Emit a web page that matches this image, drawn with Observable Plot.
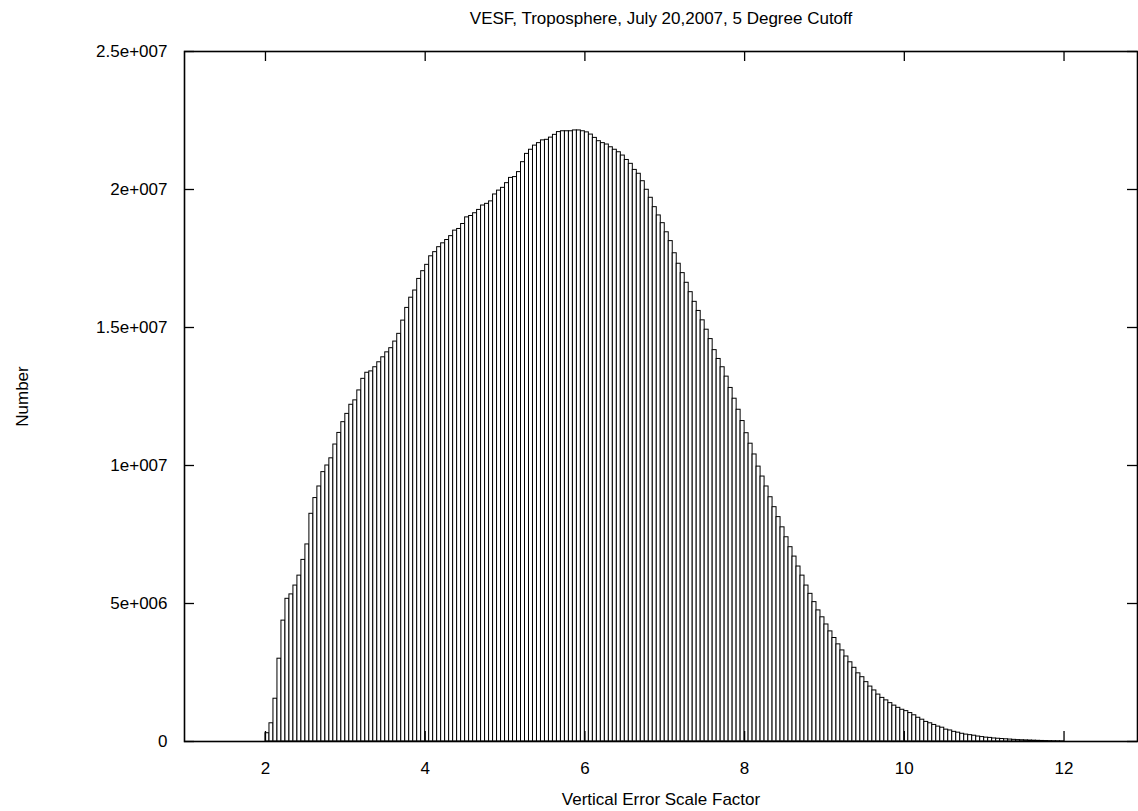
<!DOCTYPE html>
<html>
<head>
<meta charset="utf-8">
<script src="https://cdn.jsdelivr.net/npm/d3@7"></script>
<script src="https://cdn.jsdelivr.net/npm/@observablehq/plot@0.6"></script>
<style>
  html, body { margin: 0; padding: 0; background: #fff; }
  #chart svg { display: block; }
</style>
</head>
<body>
<div id="chart"></div>
<script>
// Histogram of the vertical error scale factor (VESF), bins of 0.05 starting at 2.0
const chartTitle = "VESF, Troposphere, July 20,2007, 5 Degree Cutoff";
const xLabel = "Vertical Error Scale Factor";
const yLabel = "Number";

const binStart = 2.0;
const binWidth = 0.05;

// Count per bin, in millions
const countsMillions = [
  0.30, 0.66, 1.55, 3.00, 4.38, 5.17, 5.33, 5.65, 6.01, 6.58,
  7.14, 8.25, 8.82, 9.24, 9.76, 10.00, 10.26, 10.76, 11.18, 11.57,
  11.87, 12.20, 12.36, 12.72, 13.14, 13.36, 13.41, 13.56, 13.74, 13.92,
  14.10, 14.25, 14.49, 14.77, 15.25, 15.71, 16.08, 16.34, 16.76, 17.04,
  17.27, 17.58, 17.73, 17.91, 18.05, 18.17, 18.31, 18.51, 18.57, 18.75,
  18.99, 19.04, 19.14, 19.26, 19.42, 19.48, 19.57, 19.82, 19.96, 20.06,
  20.23, 20.42, 20.45, 20.63, 20.99, 21.29, 21.44, 21.59, 21.68, 21.78,
  21.80, 21.88, 21.98, 22.08, 22.11, 22.11, 22.11, 22.14, 22.14, 22.11,
  22.07, 21.99, 21.87, 21.75, 21.68, 21.63, 21.53, 21.44, 21.35, 21.23,
  21.07, 20.93, 20.71, 20.57, 20.30, 19.99, 19.70, 19.36, 19.06, 18.78,
  18.45, 18.13, 17.69, 17.31, 16.97, 16.62, 16.28, 15.93, 15.60, 15.26,
  14.92, 14.58, 14.18, 13.86, 13.56, 13.22, 12.81, 12.42, 12.02, 11.61,
  11.17, 10.79, 10.40, 9.96, 9.60, 9.24, 8.85, 8.49, 8.13, 7.76,
  7.40, 7.04, 6.70, 6.34, 6.01, 5.65, 5.35, 5.05, 4.75, 4.50,
  4.24, 3.99, 3.75, 3.52, 3.30, 3.08, 2.87, 2.67, 2.47, 2.33,
  2.15, 1.99, 1.85, 1.70, 1.58, 1.49, 1.39, 1.30, 1.22, 1.15,
  1.10, 1.03, 0.95, 0.86, 0.79, 0.71, 0.66, 0.60, 0.54, 0.50,
  0.43, 0.40, 0.35, 0.32, 0.28, 0.25, 0.23, 0.21, 0.18, 0.16,
  0.14, 0.13, 0.11, 0.10, 0.09, 0.08, 0.07, 0.06, 0.05, 0.045,
  0.04, 0.035, 0.03, 0.025, 0.02, 0.016, 0.012, 0.009, 0.007, 0.005
];

const xTicks = [2, 4, 6, 8, 10, 12];
const yTicks = [0, 5e6, 1e7, 1.5e7, 2e7, 2.5e7];
const yTickLabels = ["0", "5e+006", "1e+007", "1.5e+007", "2e+007", "2.5e+007"];

const bins = countsMillions.map((c, i) => ({
  x1: binStart + i * binWidth,
  x2: binStart + (i + 1) * binWidth,
  count: c * 1e6
}));

const W = 1138, H = 811;
const mL = 184, mR = 1, mT = 51, mB = 70;
const frameW = W - mL - mR, frameH = H - mT - mB;
const tickLen = 10;
const fs = 17;

const chart = Plot.plot({
  width: W,
  height: H,
  marginLeft: mL,
  marginRight: mR,
  marginTop: mT,
  marginBottom: mB,
  style: { fontFamily: "'Liberation Sans', Arial, Helvetica, sans-serif", fontSize: fs + "px", background: "#fff", color: "#000" },
  x: { domain: [0.986, 12.92] },
  y: { domain: [0, 2.5e7] },
  marks: [
    // histogram bars: white boxes with black outlines
    Plot.rectY(bins, { x1: "x1", x2: "x2", y: "count", fill: "#fff", stroke: "#000", strokeWidth: 1 }),
    // inward ticks on all four sides (mirrored)
    Plot.tickX(xTicks, { x: d => d, insetTop: frameH - tickLen, stroke: "#000", strokeWidth: 1.3 }),
    Plot.tickX(xTicks, { x: d => d, insetBottom: frameH - tickLen, stroke: "#000", strokeWidth: 1.3 }),
    Plot.tickY(yTicks, { y: d => d, insetRight: frameW - tickLen, stroke: "#000", strokeWidth: 1.3 }),
    Plot.tickY(yTicks, { y: d => d, insetLeft: frameW - tickLen, stroke: "#000", strokeWidth: 1.3 }),
    Plot.frame({ stroke: "#000", strokeWidth: 1.6 }),
    Plot.axisX({ ticks: xTicks, tickSize: 0, tickPadding: 20, fontSize: fs, label: null, tickFormat: d => String(d) }),
    Plot.axisY({ ticks: yTicks, tickSize: 0, tickPadding: 17, fontSize: fs, label: null,
                 tickFormat: d => yTickLabels[yTicks.indexOf(d)] }),
    // titles
    Plot.text([chartTitle], { frameAnchor: "top", dy: -28, lineAnchor: "bottom", fontSize: fs, text: d => d }),
    Plot.text([xLabel], { frameAnchor: "bottom", dy: 63, lineAnchor: "bottom", fontSize: fs, text: d => d }),
    Plot.text([yLabel], { frameAnchor: "left", dx: -162, rotate: -90, textAnchor: "middle", fontSize: fs, text: d => d })
  ]
});

document.getElementById("chart").appendChild(chart);
</script>
</body>
</html>
